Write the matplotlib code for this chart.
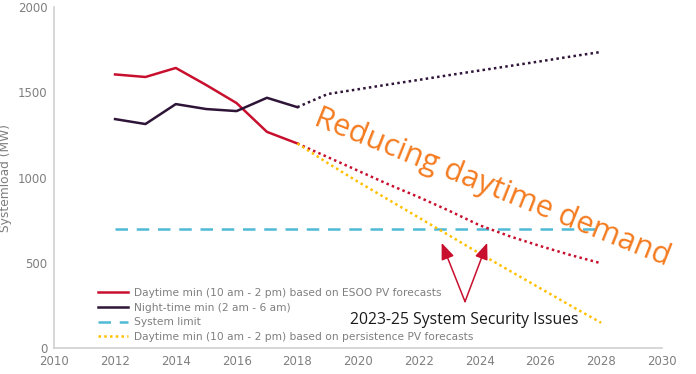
import numpy as np
import matplotlib
matplotlib.use("Agg")
import matplotlib.pyplot as plt

# data
years_hist = [2012, 2013, 2014, 2015, 2016, 2017, 2018]
day_min = [1605, 1590, 1643, 1543, 1437, 1268, 1200]
night_min = [1343, 1314, 1431, 1402, 1390, 1468, 1413]

years_fc = [2018, 2019, 2020, 2021, 2022, 2023, 2024, 2025, 2026, 2027, 2028]
night_fc = [1413, 1490, 1518, 1546, 1573, 1601, 1628, 1655, 1682, 1710, 1737]
day_fc_esoo = [1200, 1120, 1040, 960, 885, 805, 720, 655, 598, 545, 497]
day_fc_persist = [1200, 1085, 975, 870, 765, 660, 555, 452, 350, 248, 148]

limit_years = [2012, 2028]
system_limit = [700, 700]

x_ticks = list(range(2010, 2031, 2))
y_ticks = [0, 500, 1000, 1500, 2000]

RED = "#C8102E"
NIGHT = "#2E1437"
BLUE = "#4FB9D6"
YELLOW = "#FFC000"
ORANGE = "#F47B20"
GREY = "#7F7F7F"

fig = plt.figure(figsize=(6.96, 3.74), dpi=100)
ax = fig.add_axes([0.078, 0.0695, 0.873, 0.9115])

l1, = ax.plot(years_hist, day_min, color=RED, lw=1.8)
l2, = ax.plot(years_hist, night_min, color=NIGHT, lw=1.8)
l3, = ax.plot(limit_years, system_limit, color=BLUE, lw=1.8, linestyle=(0, (5, 3.5)))
ax.plot(years_fc, day_fc_esoo, color=RED, lw=1.8, linestyle=(0, (1, 1.3)))
ax.plot(years_fc, night_fc, color=NIGHT, lw=1.8, linestyle=(0, (1, 1.3)))
l4, = ax.plot(years_fc, day_fc_persist, color=YELLOW, lw=1.8, linestyle=(0, (1, 1.3)))

ax.set_xlim(2010, 2030)
ax.set_ylim(0, 2000)
ax.set_xticks(x_ticks)
ax.set_yticks(y_ticks)
ax.tick_params(length=0, labelsize=8.5, labelcolor=GREY, pad=5)
for s in ["top", "right"]:
    ax.spines[s].set_visible(False)
for s in ["left", "bottom"]:
    ax.spines[s].set_color("#D0D0D0")
    ax.spines[s].set_linewidth(1.2)
ax.set_ylabel("Systemload (MW)", color=GREY, fontsize=8.8)
ax.yaxis.set_label_coords(-0.069, 0.5)

leg = ax.legend([l1, l2, l3, l4],
                ["Daytime min (10 am - 2 pm) based on ESOO PV forecasts",
                 "Night-time min (2 am - 6 am)",
                 "System limit",
                 "Daytime min (10 am - 2 pm) based on persistence PV forecasts"],
                loc="lower left", bbox_to_anchor=(0.063, 0.0), frameon=False,
                fontsize=7.7, labelcolor=GREY, handlelength=2.8, handletextpad=0.5,
                labelspacing=0.45, borderaxespad=0.15)

ax.text(2018.5, 1310, "Reducing daytime demand", color=ORANGE, fontsize=22,
        rotation=-21.8, rotation_mode="anchor", ha="left", va="baseline",
        family="Open Sans")

ax.text(2023.5, 165, "2023-25 System Security Issues", color="#1A1A1A",
        fontsize=11.3, ha="center", va="center", family="Open Sans")
for tip in [(2022.75, 617), (2024.25, 617)]:
    ax.annotate("", xy=tip, xytext=(2023.52, 272),
                arrowprops=dict(arrowstyle="-|>,head_length=1.0,head_width=0.4",
                                color=RED, lw=1.1, shrinkA=0, shrinkB=0))

fig.savefig("out.png", dpi=100)
